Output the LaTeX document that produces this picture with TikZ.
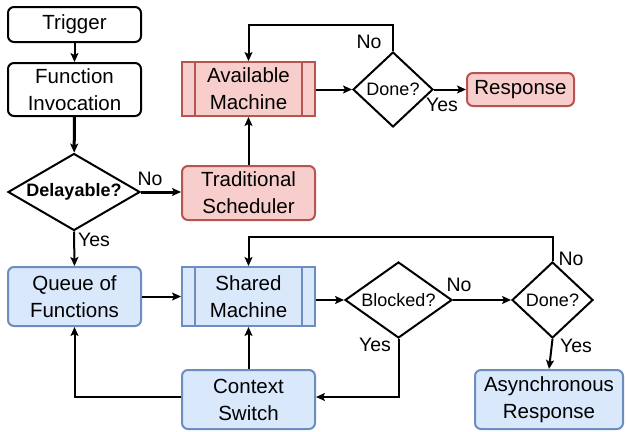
\documentclass[tikz,border=0pt]{standalone}
\usepackage{fontspec}
\setmainfont{Liberation Sans}
\usetikzlibrary{shapes.geometric,arrows.meta}
\definecolor{redfill}{HTML}{F8CECC}
\definecolor{redline}{HTML}{B85450}
\definecolor{bluefill}{HTML}{DAE8FC}
\definecolor{blueline}{HTML}{6C8EBF}
\tikzset{
  box/.style={draw=black, line width=2pt, rounded corners=6pt, rectangle, align=center, inner sep=0pt,
    font=\fontsize{20.5}{27}\selectfont},
  redbox/.style={box, draw=redline, fill=redfill},
  bluebox/.style={box, draw=blueline, fill=bluefill},
  procbox/.style={rounded corners=0pt},
  decision/.style={draw=black, line width=2pt, diamond, inner sep=0pt, align=center,
    font=\fontsize{18}{22}\selectfont},
  conn/.style={line width=2pt, -{Stealth[length=9pt,width=8pt,inset=2pt]}},
  thickconn/.style={conn, line width=3pt},
  lbl/.style={font=\fontsize{19.5}{22}\selectfont, inner sep=0pt},
}
\begin{document}
\begin{tikzpicture}[x=1pt,y=-1pt]
\useasboundingbox (0,0) rectangle (626,431);
% top part
\node[box, minimum width=133pt, minimum height=35pt] (trig) at (74.5,24.5) {Trigger};
\node[box, minimum width=133pt, minimum height=53pt] (fi) at (74.5,89.5) {Function\\Invocation};
\node[decision, shape aspect=1.71, minimum width=132pt, minimum height=77pt] (del) at (74,192) {\bfseries Delayable?};
\node[redbox, minimum width=133pt, minimum height=54pt] (ts) at (248.5,193) {Traditional\\Scheduler};
\node[redbox, procbox, minimum width=133pt, minimum height=54pt] (am) at (248.5,89) {Available\\Machine};
\draw[redline, line width=2pt] ([xshift=14pt]am.north west) -- ([xshift=14pt]am.south west)
  ([xshift=-14pt]am.north east) -- ([xshift=-14pt]am.south east);
\node[decision, shape aspect=1.07, minimum width=80pt, minimum height=75pt] (d1) at (393,89.5) {Done?};
\node[redbox, minimum width=107pt, minimum height=33pt] (resp) at (520.5,89.5) {Response};
% bottom part
\node[bluebox, minimum width=133pt, minimum height=59pt] (q) at (74.5,296.5) {Queue of\\Functions};
\node[bluebox, procbox, minimum width=133pt, minimum height=59pt] (sm) at (248.5,296.5) {Shared\\Machine};
\draw[blueline, line width=2pt] ([xshift=14pt]sm.north west) -- ([xshift=14pt]sm.south west)
  ([xshift=-14pt]sm.north east) -- ([xshift=-14pt]sm.south east);
\node[decision, shape aspect=1.41, minimum width=107pt, minimum height=76pt] (bl) at (398.5,300) {Blocked?};
\node[decision, shape aspect=1.07, minimum width=81pt, minimum height=76pt] (d2) at (552.5,300) {Done?};
\node[bluebox, minimum width=133pt, minimum height=59pt] (cs) at (248.5,399.5) {Context\\Switch};
\node[bluebox, minimum width=148pt, minimum height=59pt] (as) at (549,399.5) {Asynchronous\\Response};
% connectors
\draw[conn] (trig) -- (fi);
\draw[thickconn] (fi) -- (del);
\draw[thickconn] (del.east) -- (ts.west |- del.east);
\draw[conn] (del.south) -- (q.north);
\draw[conn] (ts) -- (am);
\draw[conn] (am.east |- d1.west) -- (d1.west);
\draw[conn] (d1.east) -- (resp.west);
\draw[conn] (d1.north) -- (d1.north |- 0,25) -| (am.north);
\draw[conn] (q.east |- sm.west) -- (sm.west);
\draw[conn] (sm.east |- bl.west) -- (bl.west);
\draw[conn] (bl.east) -- (d2.west);
\draw[conn] (bl.south) |- (cs.east |- 0,397);
\draw[conn] (cs) -- (sm);
\draw[conn] (cs.west |- 0,397) -| (q.south);
\draw[conn] (d2.south) -- (as.north);
\draw[conn] (d2.north) -- (d2.north |- 0,237) -| (sm.north);
% labels
\node[lbl] (l1) at (150,179) {No};
\node[lbl] (l2) at (94,240) {Yes};
\node[lbl] (l3) at (369,42) {No};
\node[lbl] (l4) at (442,105) {Yes};
\node[lbl] (l5) at (459,285) {No};
\node[lbl] (l6) at (375,345) {Yes};
\node[lbl] (l7) at (571,259) {No};
\node[lbl] (l8) at (576,346) {Yes};
\end{tikzpicture}
\end{document}
